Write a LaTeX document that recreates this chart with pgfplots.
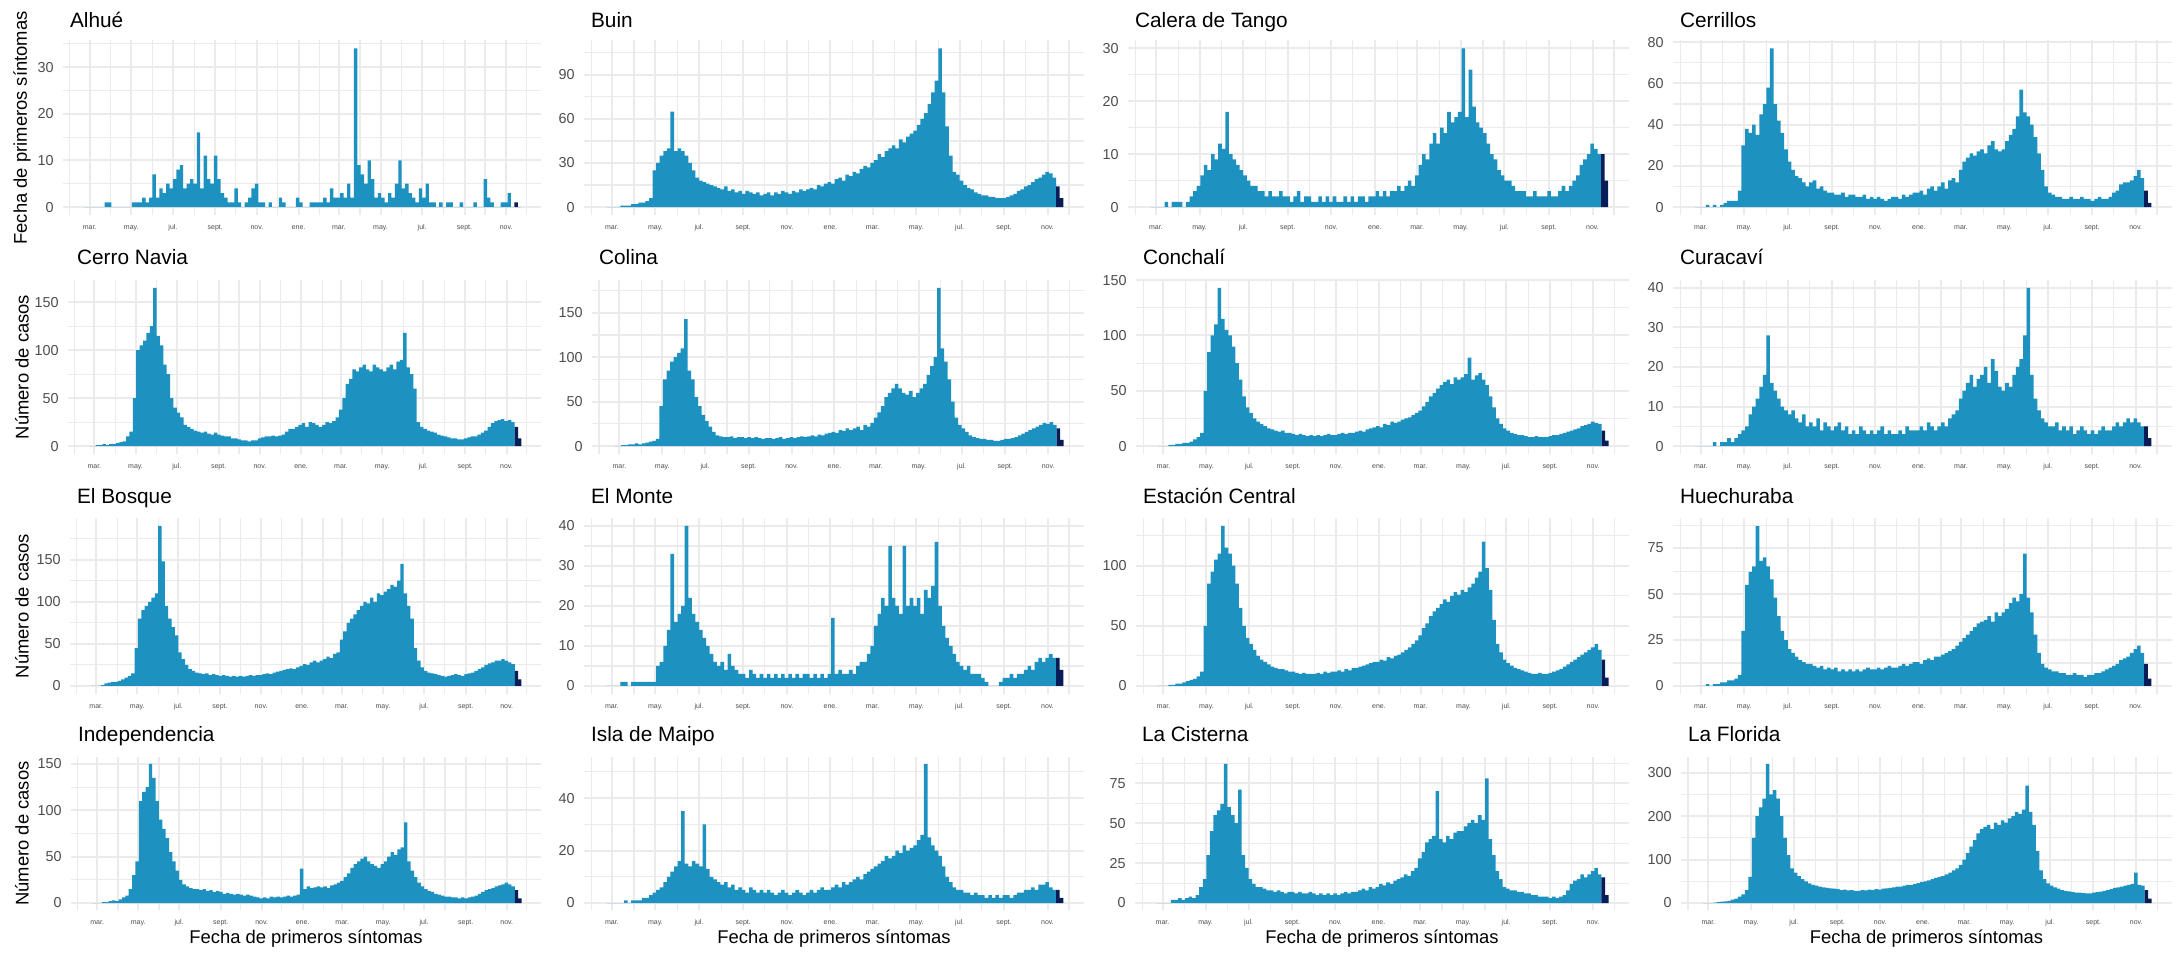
\documentclass[border=0pt]{standalone}
\usepackage{fontspec}
\setmainfont{Liberation Sans}
\usepackage{pgfplots}
\usepackage{pgfplotstable}
\pgfplotsset{compat=1.18}
\definecolor{cblue}{HTML}{1D91C0}
\definecolor{cdark}{HTML}{081D58}
\definecolor{gridc}{HTML}{EBEBEB}
\definecolor{tickc}{HTML}{4D4D4D}

% 5-day bins starting 22 Feb 2020 (day -8 from 1 Mar 2020); last row is a terminator
\pgfplotstableread[row sep=\\]{y\\
0\\0\\
0\\0\\0\\0\\1\\1\\
0\\0\\0\\0\\0\\0\\
1\\1\\1\\2\\1\\2\\
7\\2\\4\\3\\5\\4\\
6\\8\\9\\4\\5\\6\\
5\\16\\4\\11\\6\\5\\
11\\6\\3\\2\\1\\1\\
4\\1\\0\\1\\2\\4\\
5\\1\\1\\0\\1\\0\\
0\\2\\1\\0\\0\\0\\
2\\1\\0\\0\\1\\1\\
1\\1\\2\\1\\4\\2\\
2\\3\\2\\5\\2\\34\\
9\\7\\5\\10\\6\\2\\
3\\2\\1\\3\\2\\5\\
10\\4\\5\\3\\2\\1\\
4\\2\\5\\1\\1\\0\\
1\\0\\1\\1\\0\\0\\
1\\0\\0\\0\\1\\0\\
0\\6\\2\\1\\0\\0\\
1\\1\\3\\0\\
0\\
}\tAlhue

\pgfplotstableread[row sep=\\]{y\\
0\\0\\
0\\0\\1\\1\\1\\2\\
2\\3\\3\\4\\6\\25\\
30\\35\\38\\40\\65\\38\\
40\\38\\35\\30\\25\\20\\
18\\17\\16\\15\\14\\13\\
12\\14\\11\\12\\10\\11\\
9\\11\\10\\9\\10\\8\\
9\\10\\8\\10\\9\\11\\
10\\9\\11\\10\\12\\11\\
12\\13\\12\\15\\14\\16\\
17\\16\\19\\20\\18\\22\\
21\\24\\23\\26\\28\\27\\
30\\32\\36\\34\\38\\40\\
42\\40\\46\\44\\48\\50\\
52\\56\\60\\64\\70\\78\\
86\\108\\78\\55\\35\\24\\
22\\18\\15\\13\\12\\10\\
9\\8\\8\\7\\7\\6\\
6\\6\\7\\8\\9\\11\\
12\\14\\15\\17\\19\\20\\
22\\24\\23\\20\\
0\\
}\tBuin

\pgfplotstableread[row sep=\\]{y\\
0\\0\\
0\\0\\1\\0\\1\\1\\
1\\0\\1\\2\\3\\4\\
6\\8\\7\\10\\9\\12\\
11\\18\\10\\9\\8\\7\\
6\\5\\4\\4\\3\\3\\
2\\3\\2\\2\\3\\2\\
2\\1\\2\\3\\1\\2\\
2\\1\\1\\2\\1\\2\\
1\\2\\1\\1\\2\\1\\
2\\1\\2\\2\\1\\2\\
2\\3\\2\\3\\2\\3\\
3\\4\\3\\4\\5\\4\\
6\\8\\10\\9\\12\\14\\
12\\15\\14\\18\\16\\17\\
18\\30\\17\\26\\19\\16\\
15\\14\\12\\10\\9\\7\\
6\\5\\5\\4\\3\\3\\
3\\2\\2\\3\\2\\2\\
2\\3\\2\\2\\3\\4\\
3\\4\\5\\6\\8\\9\\
10\\12\\11\\10\\
0\\
}\tCalera

\pgfplotstableread[row sep=\\]{y\\
0\\0\\
0\\1\\0\\1\\0\\1\\
2\\3\\3\\3\\8\\30\\
38\\36\\40\\35\\45\\50\\
58\\77\\50\\42\\36\\28\\
22\\18\\15\\14\\12\\10\\
12\\13\\9\\10\\8\\7\\
7\\6\\6\\7\\5\\6\\
6\\5\\5\\6\\4\\5\\
4\\5\\4\\3\\4\\5\\
5\\4\\6\\5\\6\\7\\
7\\8\\6\\9\\10\\8\\
10\\12\\9\\13\\14\\12\\
18\\22\\24\\26\\25\\27\\
28\\26\\30\\32\\28\\27\\
28\\32\\35\\38\\44\\57\\
46\\44\\40\\34\\26\\18\\
10\\7\\6\\5\\5\\4\\
4\\5\\4\\4\\5\\4\\
4\\3\\4\\5\\4\\4\\
5\\7\\8\\11\\12\\12\\
13\\15\\18\\14\\
0\\
}\tCerrillos

\pgfplotstableread[row sep=\\]{y\\
0\\0\\
1\\1\\2\\1\\2\\2\\
3\\4\\5\\10\\15\\50\\
100\\105\\110\\118\\125\\165\\
115\\105\\85\\75\\50\\40\\
35\\30\\22\\20\\18\\16\\
15\\14\\15\\13\\12\\14\\
12\\11\\10\\10\\8\\8\\
7\\6\\6\\5\\6\\6\\
8\\9\\10\\10\\11\\10\\
11\\12\\15\\18\\18\\20\\
22\\24\\20\\25\\24\\22\\
20\\22\\25\\24\\26\\30\\
38\\50\\65\\70\\80\\78\\
82\\85\\80\\78\\85\\82\\
80\\78\\82\\85\\80\\88\\
90\\118\\82\\75\\60\\25\\
20\\18\\16\\15\\14\\12\\
11\\10\\9\\8\\8\\7\\
7\\8\\9\\10\\10\\12\\
14\\16\\20\\24\\26\\27\\
28\\26\\27\\25\\
0\\
}\tCerroNavia

\pgfplotstableread[row sep=\\]{y\\
0\\0\\
1\\1\\2\\2\\3\\2\\
3\\4\\5\\6\\8\\45\\
75\\85\\95\\100\\105\\110\\
143\\85\\75\\55\\45\\35\\
28\\22\\16\\12\\11\\10\\
10\\11\\9\\10\\10\\9\\
10\\9\\10\\9\\8\\9\\
9\\8\\9\\10\\8\\9\\
10\\9\\10\\11\\10\\11\\
12\\11\\13\\12\\14\\15\\
16\\15\\18\\17\\20\\18\\
20\\22\\18\\24\\22\\26\\
32\\38\\45\\55\\60\\65\\
70\\65\\60\\58\\62\\55\\
60\\65\\70\\80\\90\\100\\
178\\110\\95\\75\\50\\32\\
24\\20\\16\\12\\10\\9\\
8\\8\\7\\7\\6\\6\\
7\\8\\8\\9\\10\\12\\
14\\16\\18\\20\\22\\24\\
26\\25\\27\\24\\
0\\
}\tColina

\pgfplotstableread[row sep=\\]{y\\
0\\0\\
0\\1\\1\\2\\2\\3\\
3\\4\\6\\8\\12\\50\\
85\\100\\110\\143\\115\\105\\
100\\90\\75\\60\\45\\35\\
30\\25\\22\\20\\18\\16\\
15\\14\\13\\14\\12\\12\\
11\\10\\11\\10\\9\\10\\
9\\10\\9\\10\\11\\10\\
10\\11\\12\\11\\12\\12\\
13\\14\\13\\15\\16\\17\\
18\\17\\20\\19\\22\\21\\
22\\24\\25\\26\\28\\30\\
32\\36\\40\\45\\48\\52\\
55\\58\\60\\56\\62\\60\\
62\\65\\80\\60\\64\\66\\
60\\55\\45\\35\\25\\20\\
16\\14\\12\\11\\10\\10\\
9\\8\\8\\9\\8\\8\\
8\\9\\10\\10\\11\\12\\
13\\14\\15\\16\\18\\19\\
20\\22\\21\\20\\
0\\
}\tConchali

\pgfplotstableread[row sep=\\]{y\\
0\\0\\
0\\0\\0\\1\\0\\1\\
1\\2\\1\\2\\3\\4\\
5\\8\\10\\12\\15\\18\\
28\\16\\14\\12\\10\\9\\
8\\9\\7\\6\\8\\5\\
6\\5\\7\\4\\6\\5\\
4\\5\\6\\4\\5\\3\\
4\\3\\5\\4\\3\\4\\
3\\4\\5\\3\\4\\3\\
3\\4\\3\\5\\4\\4\\
4\\5\\4\\6\\5\\4\\
5\\6\\5\\7\\8\\9\\
12\\14\\16\\18\\15\\17\\
18\\20\\16\\22\\19\\15\\
14\\16\\15\\18\\20\\22\\
28\\40\\18\\12\\9\\7\\
6\\5\\5\\6\\4\\5\\
4\\5\\3\\4\\5\\4\\
3\\4\\3\\4\\5\\4\\
4\\5\\6\\5\\6\\7\\
6\\7\\6\\5\\
0\\
}\tCuracavi

\pgfplotstableread[row sep=\\]{y\\
0\\0\\
0\\1\\3\\4\\5\\5\\
6\\8\\10\\12\\15\\45\\
80\\90\\95\\100\\105\\110\\
190\\148\\95\\80\\70\\60\\
40\\32\\25\\20\\18\\16\\
15\\14\\15\\13\\14\\13\\
12\\13\\12\\11\\12\\11\\
12\\11\\12\\13\\12\\13\\
13\\14\\15\\14\\16\\17\\
18\\19\\20\\21\\20\\22\\
24\\26\\25\\28\\30\\28\\
30\\32\\35\\33\\38\\40\\
55\\65\\75\\80\\85\\90\\
95\\100\\98\\105\\100\\110\\
108\\112\\115\\120\\118\\125\\
145\\110\\95\\80\\45\\30\\
22\\18\\16\\15\\14\\13\\
12\\11\\12\\13\\14\\13\\
12\\14\\15\\16\\18\\20\\
22\\25\\27\\28\\30\\30\\
32\\30\\28\\26\\
0\\
}\tElBosque

\pgfplotstableread[row sep=\\]{y\\
0\\0\\
0\\0\\1\\1\\0\\1\\
1\\1\\1\\1\\1\\1\\
5\\6\\10\\14\\33\\16\\
18\\20\\40\\22\\18\\16\\
14\\12\\10\\8\\6\\5\\
6\\4\\8\\5\\4\\3\\
3\\2\\4\\3\\2\\3\\
2\\3\\2\\3\\2\\3\\
2\\3\\2\\3\\2\\3\\
3\\2\\3\\2\\3\\2\\
3\\17\\3\\4\\3\\3\\
4\\3\\5\\6\\6\\8\\
10\\15\\18\\22\\20\\35\\
22\\20\\18\\35\\20\\22\\
20\\22\\18\\24\\22\\25\\
36\\20\\15\\12\\10\\8\\
6\\5\\4\\5\\3\\3\\
3\\2\\1\\0\\0\\0\\
1\\2\\2\\3\\2\\3\\
3\\4\\5\\4\\6\\7\\
6\\7\\8\\7\\
0\\
}\tElMonte

\pgfplotstableread[row sep=\\]{y\\
0\\0\\
0\\1\\1\\2\\2\\3\\
4\\5\\6\\8\\12\\50\\
85\\95\\105\\110\\133\\115\\
110\\100\\85\\65\\50\\40\\
35\\30\\25\\22\\20\\18\\
16\\15\\14\\14\\13\\12\\
12\\11\\10\\11\\10\\10\\
10\\11\\10\\12\\11\\12\\
12\\13\\12\\14\\13\\15\\
15\\16\\17\\18\\19\\20\\
20\\22\\21\\24\\23\\25\\
26\\28\\30\\32\\35\\38\\
42\\48\\52\\58\\62\\65\\
68\\72\\70\\75\\78\\76\\
80\\78\\82\\85\\90\\95\\
120\\98\\80\\55\\35\\28\\
22\\19\\17\\15\\14\\13\\
12\\11\\10\\10\\11\\10\\
10\\11\\12\\13\\14\\16\\
18\\20\\22\\24\\26\\28\\
30\\32\\35\\30\\
0\\
}\tEstacion

\pgfplotstableread[row sep=\\]{y\\
0\\0\\
0\\1\\0\\1\\1\\2\\
2\\3\\3\\4\\6\\30\\
55\\62\\65\\87\\68\\70\\
65\\58\\48\\38\\30\\25\\
20\\18\\16\\14\\13\\12\\
12\\11\\10\\11\\9\\10\\
9\\10\\8\\9\\8\\9\\
8\\9\\8\\9\\10\\9\\
9\\10\\9\\10\\11\\10\\
10\\11\\12\\11\\12\\13\\
13\\12\\14\\15\\14\\16\\
16\\17\\18\\19\\20\\22\\
24\\26\\28\\30\\32\\34\\
35\\36\\38\\35\\40\\38\\
40\\42\\45\\48\\46\\50\\
72\\48\\40\\28\\18\\12\\
10\\9\\8\\8\\7\\7\\
6\\6\\7\\6\\6\\5\\
6\\6\\7\\7\\8\\9\\
10\\11\\12\\14\\15\\16\\
18\\20\\22\\18\\
0\\
}\tHuechuraba

\pgfplotstableread[row sep=\\]{y\\
0\\0\\
0\\1\\1\\2\\3\\2\\
4\\6\\8\\15\\30\\45\\
110\\120\\125\\150\\135\\110\\
90\\80\\70\\55\\45\\35\\
25\\20\\18\\16\\15\\15\\
14\\15\\13\\14\\12\\13\\
12\\10\\11\\10\\9\\10\\
9\\8\\9\\8\\7\\6\\
5\\6\\5\\7\\6\\7\\
6\\7\\8\\7\\8\\9\\
37\\15\\18\\16\\17\\18\\
17\\18\\16\\19\\20\\22\\
24\\28\\32\\38\\42\\45\\
48\\50\\45\\42\\40\\38\\
42\\45\\50\\55\\52\\58\\
60\\87\\45\\35\\28\\22\\
18\\15\\13\\12\\10\\9\\
8\\7\\7\\6\\6\\5\\
6\\5\\6\\7\\8\\10\\
12\\14\\15\\16\\18\\19\\
20\\22\\20\\18\\
0\\
}\tIndep

\pgfplotstableread[row sep=\\]{y\\
0\\0\\
0\\0\\0\\1\\0\\1\\
1\\1\\2\\2\\3\\4\\
5\\6\\8\\10\\12\\14\\
16\\35\\15\\14\\16\\15\\
14\\30\\13\\10\\9\\8\\
7\\8\\6\\7\\5\\6\\
5\\4\\6\\5\\4\\5\\
4\\5\\4\\3\\4\\5\\
4\\3\\4\\5\\4\\3\\
4\\5\\4\\5\\6\\5\\
5\\6\\7\\6\\8\\7\\
8\\9\\10\\9\\11\\12\\
13\\14\\15\\16\\18\\17\\
18\\20\\19\\22\\20\\21\\
22\\24\\26\\53\\25\\22\\
20\\18\\14\\10\\8\\6\\
5\\5\\4\\4\\3\\4\\
3\\3\\2\\3\\2\\3\\
2\\3\\3\\2\\3\\4\\
4\\5\\5\\6\\5\\7\\
7\\8\\6\\5\\
0\\
}\tIsla

\pgfplotstableread[row sep=\\]{y\\
0\\0\\
0\\0\\2\\2\\3\\2\\
3\\4\\3\\5\\10\\15\\
30\\45\\55\\58\\62\\87\\
60\\55\\50\\71\\30\\22\\
15\\12\\10\\10\\9\\8\\
8\\7\\8\\7\\6\\7\\
7\\6\\7\\6\\6\\7\\
6\\5\\6\\5\\6\\5\\
6\\5\\6\\7\\6\\7\\
7\\8\\9\\8\\10\\9\\
10\\12\\11\\13\\12\\14\\
15\\16\\18\\17\\20\\22\\
28\\32\\38\\40\\42\\70\\
40\\38\\42\\40\\44\\45\\
45\\48\\50\\52\\50\\55\\
52\\78\\40\\30\\20\\15\\
10\\9\\8\\8\\7\\7\\
6\\6\\5\\5\\4\\4\\
4\\3\\4\\3\\4\\5\\
8\\12\\14\\15\\18\\16\\
18\\20\\22\\18\\
0\\
}\tCisterna

\pgfplotstableread[row sep=\\]{y\\
0\\0\\
0\\1\\2\\3\\4\\5\\
8\\10\\15\\20\\30\\60\\
150\\200\\220\\240\\320\\250\\
260\\240\\200\\150\\110\\80\\
70\\62\\55\\50\\45\\42\\
40\\38\\36\\35\\34\\33\\
32\\30\\31\\29\\30\\28\\
28\\30\\29\\31\\30\\32\\
31\\33\\34\\35\\36\\38\\
38\\40\\42\\41\\44\\46\\
48\\50\\52\\55\\58\\60\\
62\\66\\70\\75\\80\\88\\
100\\115\\130\\145\\160\\170\\
175\\180\\170\\185\\180\\190\\
185\\195\\200\\210\\205\\215\\
270\\210\\180\\120\\75\\55\\
45\\40\\36\\33\\30\\28\\
27\\25\\24\\24\\23\\22\\
22\\24\\25\\26\\28\\30\\
32\\35\\36\\38\\40\\42\\
44\\70\\42\\40\\
0\\
}\tFlorida

\pgfplotsset{
  pan/.style={
    scale only axis, anchor=south west,
    xmin=-39, xmax=661,
    axis line style={draw=none},
    major tick length=0pt, minor tick length=0pt,
    xtick={0,61,122,184,245,306,365,426,487,549,610},
    xticklabels={mar.,may.,jul.,sept.,nov.,ene.,mar.,may.,jul.,sept.,nov.},
    minor xtick={-29,31,92,153,214,275,337,396,457,518,579,640},
    grid=both,
    major grid style={draw=gridc, line width=1pt},
    minor grid style={draw=gridc, line width=0.55pt},
    xticklabel style={font=\fontsize{3.5}{4}\selectfont, text=tickc, inner sep=0pt, anchor=center, yshift=-6.5pt},
    yticklabel style={font=\fontsize{7.2}{8}\selectfont, text=tickc, inner sep=0pt, anchor=east, xshift=-4.5pt},
    /pgf/number format/assume math mode=true,
  },
  bar1/.style={fill=cblue, draw=none, const plot mark left},
  bar2/.style={fill=cdark, draw=none, const plot mark left},
}
\newcommand{\bars}[3]{%
  \addplot[bar1] table[x expr=\coordindex*5-8, y=y]{#1}\closedcycle;
  \addplot[bar2] coordinates {(622,#2)(627,#3)(632,0)}\closedcycle;
}
\newcommand{\ttl}{\fontsize{10.4}{12}\selectfont}
\newcommand{\lab}{\fontsize{9.2}{11}\selectfont}

\begin{document}
\begin{tikzpicture}
\path[use as bounding box] (0,0) rectangle (1088pt,476.5pt);

% ---------------- Row 1
\begin{axis}[pan, at={(31.5pt,369pt)}, width=239pt, height=87.25pt, ymin=-1.7, ymax=35.7, ytick={0,10,20,30}, minor ytick={5,15,25,35}]
\bars{\tAlhue}{1}{0}
\end{axis}
\begin{axis}[pan, at={(292pt,369pt)}, width=250pt, height=87.25pt, ymin=-5.4, ymax=113.4, ytick={0,30,60,90}, minor ytick={15,45,75,105}]
\bars{\tBuin}{14}{6}
\end{axis}
\begin{axis}[pan, at={(564pt,369pt)}, width=250.5pt, height=87.25pt, ymin=-1.5, ymax=31.5, ytick={0,10,20,30}, minor ytick={5,15,25}]
\bars{\tCalera}{10}{5}
\end{axis}
\begin{axis}[pan, at={(836.5pt,369pt)}, width=249.5pt, height=87.25pt, ymin=-3.85, ymax=80.85, ytick={0,20,40,60,80}, minor ytick={10,30,50,70}]
\bars{\tCerrillos}{8}{2}
\end{axis}

% ---------------- Row 2
\begin{axis}[pan, at={(34pt,249.5pt)}, width=236.5pt, height=87pt, ymin=-8.25, ymax=173.25, ytick={0,50,100,150}, minor ytick={25,75,125}]
\bars{\tCerroNavia}{20}{8}
\end{axis}
\begin{axis}[pan, at={(296pt,249.5pt)}, width=246pt, height=87pt, ymin=-8.9, ymax=186.9, ytick={0,50,100,150}, minor ytick={25,75,125,175}]
\bars{\tColina}{20}{7}
\end{axis}
\begin{axis}[pan, at={(568pt,249.5pt)}, width=246.5pt, height=87pt, ymin=-7.15, ymax=150.15, ytick={0,50,100,150}, minor ytick={25,75,125}]
\bars{\tConchali}{14}{5}
\end{axis}
\begin{axis}[pan, at={(836.5pt,249.5pt)}, width=249.5pt, height=87pt, ymin=-2, ymax=42, ytick={0,10,20,30,40}, minor ytick={5,15,25,35}]
\bars{\tCuracavi}{5}{2}
\end{axis}

% ---------------- Row 3
\begin{axis}[pan, at={(35pt,129.5pt)}, width=235.5pt, height=88pt, ymin=-9.5, ymax=199.5, ytick={0,50,100,150}, minor ytick={25,75,125,175}]
\bars{\tElBosque}{18}{8}
\end{axis}
\begin{axis}[pan, at={(292pt,129.5pt)}, width=250pt, height=88pt, ymin=-2, ymax=42, ytick={0,10,20,30,40}, minor ytick={5,15,25,35}]
\bars{\tElMonte}{7}{4}
\end{axis}
\begin{axis}[pan, at={(568pt,129.5pt)}, width=246.5pt, height=88pt, ymin=-6.65, ymax=139.65, ytick={0,50,100}, minor ytick={25,75,125}]
\bars{\tEstacion}{22}{7}
\end{axis}
\begin{axis}[pan, at={(836.5pt,129.5pt)}, width=249.5pt, height=88pt, ymin=-4.35, ymax=91.35, ytick={0,25,50,75}, minor ytick={12.5,37.5,62.5,87.5}]
\bars{\tHuechuraba}{12}{4}
\end{axis}

% ---------------- Row 4
\begin{axis}[pan, at={(35.5pt,21.5pt)}, width=235pt, height=76.5pt, ymin=-7.5, ymax=157.5, ytick={0,50,100,150}, minor ytick={25,75,125}]
\bars{\tIndep}{14}{5}
\end{axis}
\begin{axis}[pan, at={(292pt,21.5pt)}, width=250pt, height=76.5pt, ymin=-2.65, ymax=55.65, ytick={0,20,40}, minor ytick={10,30,50}]
\bars{\tIsla}{5}{2}
\end{axis}
\begin{axis}[pan, at={(567.5pt,21.5pt)}, width=247pt, height=76.5pt, ymin=-4.35, ymax=91.35, ytick={0,25,50,75}, minor ytick={12.5,37.5,62.5,87.5}]
\bars{\tCisterna}{16}{5}
\end{axis}
\begin{axis}[pan, at={(840.5pt,21.5pt)}, width=245.5pt, height=76.5pt, ymin=-16, ymax=336, ytick={0,100,200,300}, minor ytick={50,150,250}]
\bars{\tFlorida}{30}{10}
\end{axis}

% ---------------- Titles
\node[anchor=base west, font=\ttl] at (31.5pt,462.5pt) {Alhué};
\node[anchor=base west, font=\ttl] at (292pt,462.5pt) {Buin};
\node[anchor=base west, font=\ttl] at (564pt,462.5pt) {Calera de Tango};
\node[anchor=base west, font=\ttl] at (836.5pt,462.5pt) {Cerrillos};
\node[anchor=base west, font=\ttl] at (35pt,344pt) {Cerro Navia};
\node[anchor=base west, font=\ttl] at (296pt,344pt) {Colina};
\node[anchor=base west, font=\ttl] at (568pt,344pt) {Conchalí};
\node[anchor=base west, font=\ttl] at (836.5pt,344pt) {Curacaví};
\node[anchor=base west, font=\ttl] at (35pt,224.5pt) {El Bosque};
\node[anchor=base west, font=\ttl] at (292pt,224.5pt) {El Monte};
\node[anchor=base west, font=\ttl] at (568pt,224.5pt) {Estación Central};
\node[anchor=base west, font=\ttl] at (836.5pt,224.5pt) {Huechuraba};
\node[anchor=base west, font=\ttl] at (35.5pt,105.5pt) {Independencia};
\node[anchor=base west, font=\ttl] at (292pt,105.5pt) {Isla de Maipo};
\node[anchor=base west, font=\ttl] at (567.5pt,105.5pt) {La Cisterna};
\node[anchor=base west, font=\ttl] at (840.5pt,105.5pt) {La Florida};

% ---------------- Axis titles
\node[rotate=90, font=\lab] at (11pt,412.5pt) {Fecha de primeros síntomas};
\node[rotate=90, font=\lab] at (11pt,293pt) {Número de casos};
\node[rotate=90, font=\lab] at (11pt,173.5pt) {Número de casos};
\node[rotate=90, font=\lab] at (11pt,59.75pt) {Número de casos};
\node[font=\lab] at (153pt,7pt) {Fecha de primeros síntomas};
\node[font=\lab] at (417pt,7pt) {Fecha de primeros síntomas};
\node[font=\lab] at (691pt,7pt) {Fecha de primeros síntomas};
\node[font=\lab] at (963.25pt,7pt) {Fecha de primeros síntomas};
\end{tikzpicture}
\end{document}
